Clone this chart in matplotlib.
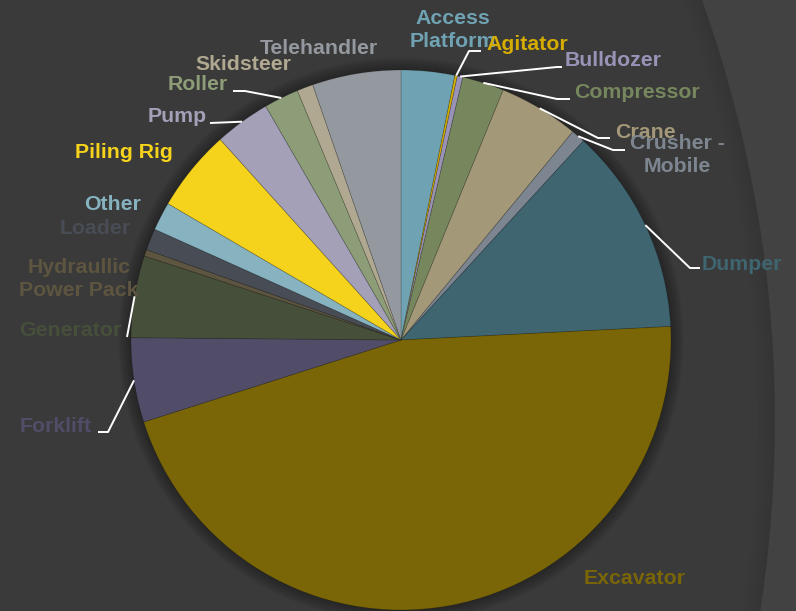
import numpy as np
import matplotlib
matplotlib.use("Agg")
import matplotlib.pyplot as plt
from matplotlib.patches import Circle, Rectangle

# ---------------- data ----------------
categories = ["Access\nPlatform", "Agitator", "Bulldozer", "Compressor", "Crane",
              "Crusher -\nMobile", "Dumper", "Excavator", "Forklift", "Generator",
              "Hydraullic\nPower Pack", "Loader", "Other", "Piling Rig", "Pump",
              "Roller", "Skidsteer", "Telehandler"]
shares = [3.2, 0.15, 0.33, 2.5, 4.8, 0.83, 12.4, 45.9, 5.05, 4.9,
          0.39, 1.3, 1.7, 4.9, 3.33, 2.08, 0.97, 5.3]
colors = ["#6fa3b3", "#d4ad00", "#9a93b8", "#76875e", "#a39878",
          "#7d8690", "#3e6570", "#7a6606", "#514d69", "#464f3a",
          "#5e5540", "#484c55", "#87b2c0", "#f5d31c", "#a3a0b8",
          "#8c9d77", "#b0a890", "#9499a0"]

W, H = 796, 611
fig = plt.figure(figsize=(W / 100, H / 100), dpi=100)
fig.patch.set_facecolor("#424242")
ax = fig.add_axes([0, 0, 1, 1])
ax.set_xlim(0, W)
ax.set_ylim(0, H)
ax.set_aspect("equal")
ax.axis("off")

def P(x, y):
    """pixel (top-left origin) -> data coords"""
    return x, H - y

# ---------- background with big arc ----------
ax.add_patch(Rectangle((0, 0), W, H, color="#424242", zorder=0))
bc = P(-470, 420)
R = 1245
ax.add_patch(Circle(bc, R, color="#3a3a3a", lw=0, zorder=0.6))
for i in range(7):
    ax.add_patch(Circle(bc, R - 1.5 - 2.5 * i, fill=False, edgecolor="#000000",
                        lw=2.0, alpha=0.07 * (1 - i / 7), zorder=0.7))

# ---------- pie ----------
cx, cy = P(401, 340)
rad = 270
for i in range(8):
    ax.add_patch(Circle((cx, cy), rad + 2 + i * 1.5, color="#000000", alpha=0.04, lw=0, zorder=0.8))

wedges, _ = ax.pie(shares, colors=colors, startangle=90, counterclock=False,
                   center=(cx, cy), radius=rad, frame=True,
                   wedgeprops=dict(edgecolor=(0, 0, 0, 0.18), linewidth=0.6))
for w in wedges:
    w.set_zorder(2)
ax.set_xlim(0, W)
ax.set_ylim(0, H)
ax.axis("off")

# ---------- labels ----------
# text centre (px), leader polyline after the wedge edge point (px) or None
layout = {
    "Access\nPlatform": ((453, 30), None),
    "Agitator": ((527, 45), [(469, 51), (481, 51)]),
    "Bulldozer": ((613, 60), [(557, 67), (562, 67)]),
    "Compressor": ((637, 92), [(557, 99), (570, 99)]),
    "Crane": ((645, 132), [(598, 138), (610, 138)]),
    "Crusher -\nMobile": ((677, 155), [(613, 150), (625, 150)]),
    "Dumper": ((742, 264), [(690, 268), (700, 268)]),
    "Excavator": ((635, 578), None),
    "Forklift": ((56, 426), [(108, 432), (98, 432)]),
    "Generator": ((70, 330), [(127, 337)]),
    "Hydraullic\nPower Pack": ((79, 279), None),
    "Loader": ((95, 229), None),
    "Other": ((113, 204), None),
    "Piling Rig": ((124, 152), None),
    "Pump": ((177, 116), [(210, 123)]),
    "Roller": ((198, 84), [(245, 91), (233, 91)]),
    "Skidsteer": ((243, 64), None),
    "Telehandler": ((319, 49), None),
}

for w, name, col in zip(wedges, categories, colors):
    (tx, ty), pts = layout[name]
    if pts is not None:
        mid = np.deg2rad((w.theta1 + w.theta2) / 2)
        sx, sy = cx + rad * np.cos(mid), cy + rad * np.sin(mid)
        xs = [sx] + [P(*p)[0] for p in pts]
        ys = [sy] + [P(*p)[1] for p in pts]
        ax.plot(xs, ys, color="white", lw=1.4, zorder=3, solid_capstyle="butt")
    ax.text(*P(tx, ty), name, color=col, ha="center", va="center",
            fontsize=15.3, fontweight="bold", family="Liberation Sans",
            linespacing=1.3, zorder=4)

fig.savefig("out.png", dpi=100, facecolor=fig.get_facecolor())
